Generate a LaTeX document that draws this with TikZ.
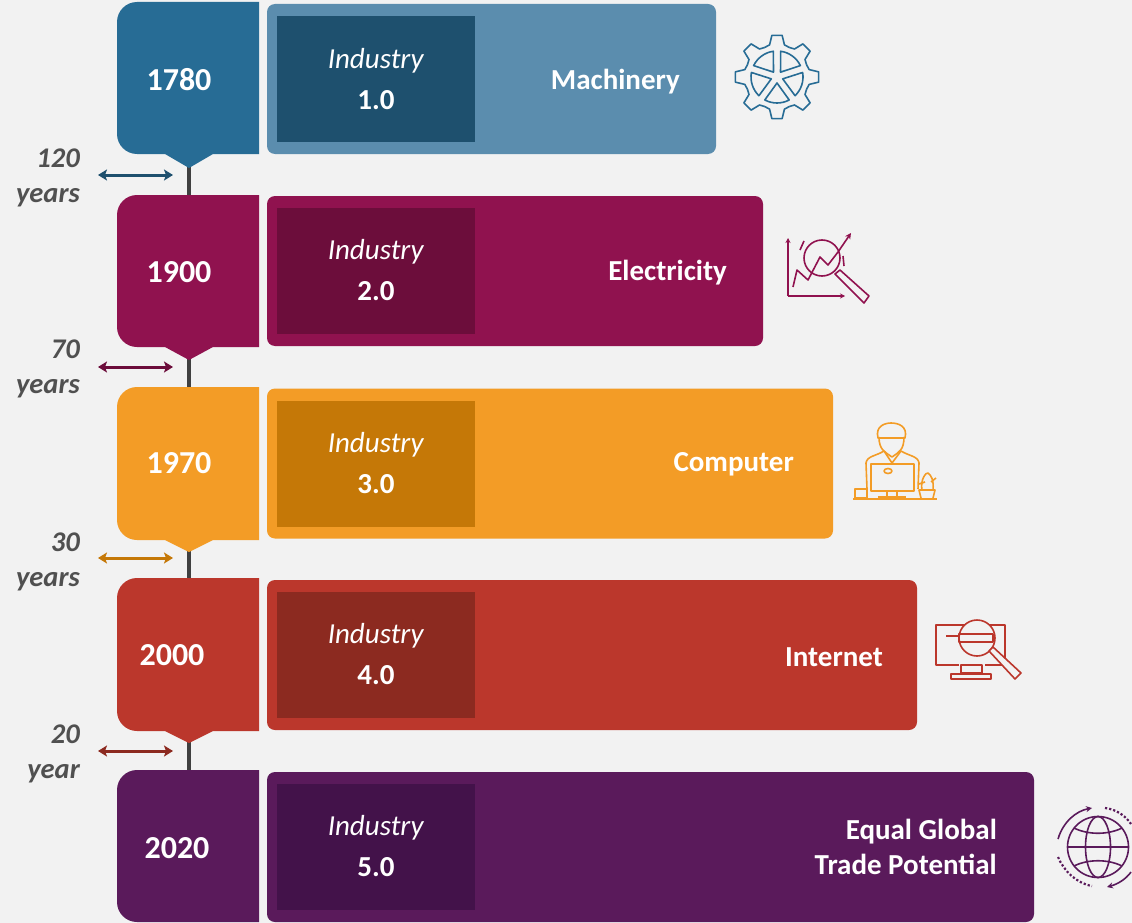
\documentclass[tikz,border=0pt]{standalone}
\usepackage{fontspec}
\setmainfont{Carlito}
\usetikzlibrary{arrows.meta}
\definecolor{pagegrey}{HTML}{F2F2F2}
\definecolor{stemgrey}{HTML}{404040}
\definecolor{gapgrey}{HTML}{505050}
\definecolor{blueTab}{HTML}{276C95}
\definecolor{blueBar}{HTML}{5B8DAE}
\definecolor{blueIn}{HTML}{1E506E}
\definecolor{wineTab}{HTML}{90124F}
\definecolor{wineIn}{HTML}{6C0D3B}
\definecolor{amberTab}{HTML}{F39C26}
\definecolor{amberIn}{HTML}{C57807}
\definecolor{redTab}{HTML}{BB372C}
\definecolor{redIn}{HTML}{8C2A20}
\definecolor{plumTab}{HTML}{5A1A5B}
\definecolor{plumIn}{HTML}{43124A}
\tikzset{
	barbox/.style={inner sep=0pt,outer sep=0pt,rounded corners=8pt,minimum height=150pt},
	innerbox/.style={inner sep=0pt,outer sep=0pt,minimum width=198pt,minimum height=126pt,text=white,align=center,font=\fontsize{29}{41}\selectfont},
	yearlabel/.style={text=white,font=\fontsize{32}{34}\selectfont\bfseries},
	themelabel/.style={anchor=east,inner sep=0pt,text=white,align=right,font=\fontsize{29}{35}\selectfont\bfseries},
	gaplabel/.style={anchor=east,inner sep=0pt,text=gapgrey,align=right,font=\fontsize{28.5}{35}\selectfont\bfseries\itshape},
	stem/.style={stemgrey,line width=4pt},
	gaparrow/.style={line width=3pt,{Stealth[length=9pt,width=11pt,inset=2pt]}-{Stealth[length=9pt,width=11pt,inset=2pt]}},
	icon/.style={line width=1.6pt,line join=round}
}
\begin{document}
\begin{tikzpicture}[x=1pt,y=-1pt]
	\fill[pagegrey] (0,0) rectangle (1132,923);
	\useasboundingbox (0,0) rectangle (1132,923);

	\coordinate (tip1780) at (189,166);
	\coordinate (top1900) at (189,196);
	\coordinate (tip1900) at (189,358);
	\coordinate (top1970) at (189,388);
	\coordinate (tip1970) at (189,550);
	\coordinate (top2000) at (189,579);
	\coordinate (tip2000) at (189,741);
	\coordinate (top2020) at (189,771);
	\draw[stem] (tip1780) -- (top1900);
	\draw[stem] (tip1900) -- (top1970);
	\draw[stem] (tip1970) -- (top2000);
	\draw[stem] (tip2000) -- (top2020);

	\fill[blueTab] (259,2) -- (259,154) -- (213,154) -- (189,168) -- (165,154) [rounded corners=20pt] -- (117,154) -- (117,2) [sharp corners] -- cycle;
	\fill[wineTab] (259,195) -- (259,347) -- (213,347) -- (189,360) -- (165,347) [rounded corners=20pt] -- (117,347) -- (117,195) [sharp corners] -- cycle;
	\fill[amberTab] (259,387) -- (259,540) -- (213,540) -- (189,552) -- (165,540) [rounded corners=20pt] -- (117,540) -- (117,387) [sharp corners] -- cycle;
	\fill[redTab] (259,578) -- (259,731) -- (213,731) -- (189,743) -- (165,731) [rounded corners=20pt] -- (117,731) -- (117,578) [sharp corners] -- cycle;
	\fill[plumTab] (259,770) -- (259,922) [rounded corners=20pt] -- (117,922) -- (117,770) [sharp corners] -- cycle;

	\node[yearlabel] (year1780) at (179,80) {1780};
	\node[yearlabel] (year1900) at (179,272) {1900};
	\node[yearlabel] (year1970) at (179,463) {1970};
	\node[yearlabel] (year2000) at (172,655) {2000};
	\node[yearlabel] (year2020) at (177,848) {2020};

	\node[barbox,fill=blueBar,minimum width=449pt] (barMachinery) at (491.5,79) {};
	\node[barbox,fill=wineTab,minimum width=496pt] (barElectricity) at (515,271) {};
	\node[barbox,fill=amberTab,minimum width=566pt] (barComputer) at (550,463.5) {};
	\node[barbox,fill=redTab,minimum width=650pt] (barInternet) at (592,655) {};
	\node[barbox,fill=plumTab,minimum width=767pt] (barTrade) at (650.5,847) {};

	\node[innerbox,fill=blueIn] (ind1) at (376,79.5) {\textit{Industry}\\\textbf{1.0}};
	\node[innerbox,fill=wineIn] (ind2) at (376,270.5) {\textit{Industry}\\\textbf{2.0}};
	\node[innerbox,fill=amberIn] (ind3) at (376,463.5) {\textit{Industry}\\\textbf{3.0}};
	\node[innerbox,fill=redIn] (ind4) at (376,654.5) {\textit{Industry}\\\textbf{4.0}};
	\node[innerbox,fill=plumIn] (ind5) at (376,846.5) {\textit{Industry}\\\textbf{5.0}};

	\node[themelabel] (themeMachinery) at (680,82) {Machinery};
	\node[themelabel] (themeElectricity) at (727,273) {Electricity};
	\node[themelabel] (themeComputer) at (794,464) {Computer};
	\node[themelabel] (themeInternet) at (883,657) {Internet};
	\node[themelabel] (themeTrade) at (997,847) {Equal Global\\Trade Potential};

	\node[gaplabel] (gap120) at (80,178) {120\\years};
	\node[gaplabel] (gap70) at (80,369) {70\\years};
	\node[gaplabel] (gap30) at (80,562) {30\\years};
	\node[gaplabel] (gap20) at (80,754) {20\\year};

	\coordinate (gapL1) at (98,175);
	\coordinate (gapR1) at (173,175);
	\coordinate (gapL2) at (98,367);
	\coordinate (gapR2) at (173,367);
	\coordinate (gapL3) at (98,558);
	\coordinate (gapR3) at (173,558);
	\coordinate (gapL4) at (98,751);
	\coordinate (gapR4) at (173,751);
	\draw[gaparrow,blueIn] (gapL1) -- (gapR1);
	\draw[gaparrow,wineIn] (gapL2) -- (gapR2);
	\draw[gaparrow,amberIn] (gapL3) -- (gapR3);
	\draw[gaparrow,redIn] (gapL4) -- (gapR4);

	\begin{scope}[shift={(777,77)},icon,draw=blueTab]
		\foreach \a in {0,45,...,315}
		{
			\draw (\a-22.5:32) -- (\a-13:33) -- (\a-7:42) -- (\a+7:42) -- (\a+13:33) -- (\a+22.5:32);
		}
		\foreach \a in {90,162,234,306,18}
		{
			\draw (\a:6) -- (\a-28:26) arc[start angle=\a-28,end angle=\a+28,radius=26] -- cycle;
		}
	\end{scope}

	\begin{scope}[icon,draw=wineTab]
		\draw[-{Stealth[length=5pt,width=5pt]}] (788,296) -- (788,238);
		\draw[-{Stealth[length=5pt,width=5pt]}] (788,296) -- (845,296);
		\draw (793,287) -- (797,270) -- (808,280) -- (820,257) -- (828,265) -- (838,252);
		\draw[-{Stealth[length=6pt,width=6pt]}] (838,252) -- (851,233);
		\draw (822,258) circle[radius=18];
		\draw (800,250) -- (804,241);
		\draw (843,256) -- (844,266);
		\draw (835,274) -- (840,270) -- (869,296) -- (864,303) -- cycle;
	\end{scope}

	\begin{scope}[icon,draw=amberTab]
		\draw (853,499) -- (937,499);
		\draw (855,489) rectangle (867,498);
		\draw (871,464) rectangle (914,491);
		\draw (888,471) ellipse[x radius=4,y radius=2.5];
		\draw (887,491) rectangle (897,497);
		\draw (878,497) -- (906,497);
		\draw (867,489) -- (866,463) .. controls (867,456) and (876,456) .. (884,451);
		\draw (918,489) -- (919,463) .. controls (918,456) and (909,456) .. (901,451);
		\draw (884,451) -- (892,463) -- (901,451);
		\draw (879,437) .. controls (879,450) and (885,452) .. (892,457) .. controls (899,452) and (904,450) .. (904,437);
		\draw (878,438) .. controls (875,426) and (885,423) .. (891,423) .. controls (898,423) and (908,426) .. (905,438) -- cycle;
		\draw (884,438) -- (900,438);
		\draw (921,498) -- (919,490) -- (935,490) -- (933,498);
		\draw (922,490) .. controls (920,480) and (926,472) .. (928,473) .. controls (931,475) and (934,480) .. (933,490);
		\draw (925,482) -- (919,484);
		\draw (931,482) -- (936,478);
	\end{scope}

	\begin{scope}[icon,draw=redTab]
		\draw[line width=2pt] (959,665) -- (936,665) -- (936,625) -- (1005,625) -- (1005,665) -- (985,665);
		\draw (961,665) rectangle (982,673);
		\draw (951,674) rectangle (991,679);
		\draw[line width=2.5pt] (946,636) -- (958,636);
		\draw[fill=pagegrey] (977,638) circle[radius=18];
		\draw (959,634) rectangle (993,642);
		\draw[fill=pagegrey] (989,651) -- (993,647) -- (1021,673) -- (1015,679) -- cycle;
	\end{scope}

	\begin{scope}[icon,draw=plumTab]
		\draw (1098,847) circle[radius=30.5];
		\draw (1098,847) ellipse[x radius=12.5,y radius=30.5];
		\draw (1067.5,847) -- (1128.5,847);
		\draw (1074,828) .. controls (1088,835) and (1108,835) .. (1122,828);
		\draw (1074,866) .. controls (1088,859) and (1108,859) .. (1122,866);
		\draw[-{Stealth[length=6pt,width=6pt]}] (1058,839) .. controls (1063,822) and (1076,811) .. (1092,808);
		\draw[-{Stealth[length=6pt,width=6pt]}] (1131,872) .. controls (1126,879) and (1118,884) .. (1107,887);
		\draw[dotted,line width=2.2pt] (1105,808) .. controls (1115,809) and (1125,815) .. (1131,824);
		\draw[dotted,line width=2.2pt] (1058,857) .. controls (1064,871) and (1076,883) .. (1092,886);
	\end{scope}
\end{tikzpicture}
\end{document}
